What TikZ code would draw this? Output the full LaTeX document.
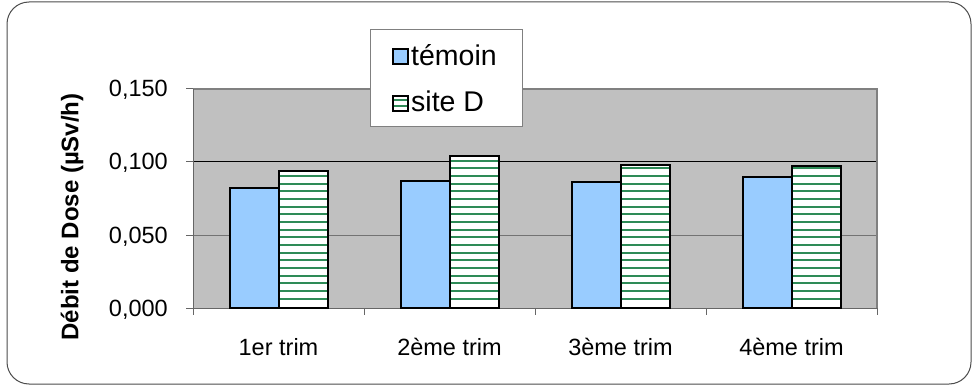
\documentclass[tikz,border=0pt]{standalone}
\usepackage{fontspec}
\setmainfont{Liberation Sans}
\usetikzlibrary{calc}
\definecolor{plotgray}{RGB}{192,192,192}
\definecolor{temoinblue}{RGB}{153,204,255}
\definecolor{hatchgreen}{RGB}{46,139,87}
\definecolor{framegray}{RGB}{128,128,128}

\begin{document}
\begin{tikzpicture}[x=1pt,y=-1pt,
  barline/.style={draw=black,line width=2pt},
  hatchline/.style={hatchgreen,line width=2pt},
  ticklab/.style={font=\fontsize{23.5}{28}\selectfont,inner sep=0pt},
  leglab/.style={font=\fontsize{28.5}{34}\selectfont,inner sep=0pt}]
\useasboundingbox (0,0) rectangle (972,385);
\def\v{1460}% pixels per unit of dose
% outer frame
\draw[black!70,line width=1pt,rounded corners=22pt] (7,2) rectangle (971,384);
% plot area
\fill[plotgray] (193,89) rectangle (877,308);
\draw[black,line width=1pt] (193,162) -- (877,162);
\draw[black!55,line width=1pt] (193,235) -- (877,235);
\draw[framegray,line width=1.5pt] (193,89) -- (877,89) -- (877,308);
% axes and ticks
\draw[black!60,line width=1pt] (193,89) -- (193,308) -- (877,308);
\foreach \y/\t in {89/{0,150},162/{0,100},235/{0,050},308/{0,000}}{
  \draw[black!60,line width=1pt] (186,\y) -- (193,\y);
  \node[ticklab,anchor=base east] at (168,\y+8) {\t};
}
\foreach \x in {193,364,535,706,877}
  \draw[black!60,line width=1pt] (\x,308) -- (\x,315);
% bars
\foreach \i/\a/\b/\lab in {0/0.082/0.094/1er trim,1/0.087/0.104/2ème trim,
                           2/0.086/0.098/3ème trim,3/0.090/0.097/4ème trim}{
  \pgfmathsetmacro{\c}{278.5+171*\i}
  \pgfmathsetmacro{\ta}{308-\a*\v}
  \pgfmathsetmacro{\tb}{308-\b*\v}
  \fill[temoinblue] (\c-49,\ta) rectangle (\c,308);
  \fill[white] (\c,\tb) rectangle (\c+49,308);
  \begin{scope}
    \clip (\c,\tb) rectangle (\c+49,308);
    \foreach \k in {0,...,20}
      \draw[hatchline] (\c,298.7-\k*7.67) -- (\c+49,298.7-\k*7.67);
  \end{scope}
  \draw[barline] (\c-49,308) rectangle (\c,\ta);
  \draw[barline] (\c,308) rectangle (\c+49,\tb);
  \node[ticklab,anchor=base] (cat\i) at (\c,355) {\lab};
}
% axis title
\node[rotate=90,font=\bfseries\fontsize{24}{28}\selectfont,inner sep=0pt] (ytitle) at (72,217) {Débit de Dose (µSv/h)};
% legend
\draw[fill=white,draw=framegray,line width=1pt] (370,30) rectangle (522,127);
\draw[barline,fill=temoinblue] (393,49) rectangle (408,64);
\draw[barline,fill=white] (393,96) rectangle (408,111);
\draw[hatchline] (394,100.5) -- (407,100.5);
\draw[hatchline] (394,106.5) -- (407,106.5);
\node[leglab,anchor=base west] (temoin) at (411,66) {témoin};
\node[leglab,anchor=base west] (siteD) at (411,112) {site D};
\end{tikzpicture}
\end{document}
